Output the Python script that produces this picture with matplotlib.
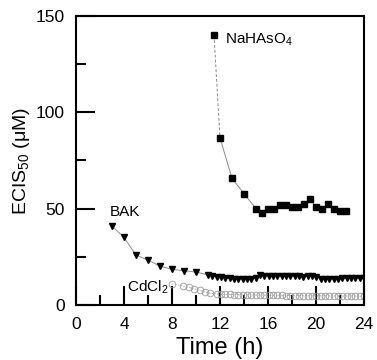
import matplotlib
matplotlib.use("Agg")
import matplotlib.pyplot as plt

plt.rcParams['font.family'] = ['Liberation Sans', 'DejaVu Sans']
plt.rcParams['mathtext.fontset'] = 'custom'
plt.rcParams['mathtext.rm'] = 'Liberation Sans'

# NaHAsO4 (squares)
na_time = [11.5, 12, 13, 14, 15, 15.5, 16, 16.5, 17, 17.5, 18, 18.5,
           19, 19.5, 20, 20.5, 21, 21.5, 22, 22.5]
na_vals = [140, 86.8, 65.7, 57.8, 50.0, 47.9, 50.0, 50.0, 51.9, 51.9, 50.8, 50.8,
           52.4, 55.0, 50.8, 49.7, 52.4, 49.7, 48.6, 48.6]

# BAK (down triangles)
bak_time = [3, 4, 5, 6, 7, 8, 9, 10,
            11.0, 11.36, 11.72, 12.08, 12.44, 12.81, 13.17, 13.53, 13.89, 14.25,
            14.61, 14.97, 15.33, 15.69, 16.06, 16.42, 16.78, 17.14, 17.5, 17.86,
            18.22, 18.58, 18.94, 19.31, 19.67, 20.03, 20.39, 20.75, 21.11, 21.47,
            21.83, 22.19, 22.56, 22.92, 23.28, 23.64, 24.0]
bak_vals = [41.0, 35.1, 25.9, 23.3, 20.2, 18.5, 17.8, 17.1,
            15.6, 15.0, 14.6, 14.3, 14.0, 13.8, 13.6, 13.4, 13.3, 13.4,
            13.6, 14.2, 15.4, 15.3, 15.2, 15.0, 15.0, 15.0, 14.9, 14.8,
            14.8, 14.8, 14.7, 15.0, 15.2, 14.5, 13.6, 13.5, 13.4, 13.4,
            13.6, 13.8, 13.9, 14.0, 14.0, 14.0, 14.0]

# CdCl2 (open circles)
cd_time = [8, 8.9, 9.4, 9.8, 10.3, 10.75, 11.2, 11.72,
           12.08, 12.44, 12.81, 13.17, 13.53, 13.89, 14.25, 14.61, 14.97, 15.33,
           15.69, 16.06, 16.42, 16.78, 17.14, 17.5, 17.86, 18.22, 18.58, 18.94,
           19.31, 19.67, 20.03, 20.39, 20.75, 21.11, 21.47, 21.83, 22.19, 22.56,
           22.92, 23.28, 23.64, 24.0]
cd_vals = [11.0, 9.9, 9.2, 8.5, 7.6, 6.7, 6.1, 5.7,
           5.6, 5.5, 5.5, 5.4, 5.4, 5.3, 5.3, 5.2, 5.2, 5.1,
           5.1, 5.1, 5.0, 5.0, 5.0, 4.9, 4.9, 4.9, 4.9, 4.8,
           4.8, 4.8, 4.8, 4.8, 4.7, 4.7, 4.7, 4.7, 4.7, 4.7,
           4.7, 4.6, 4.6, 4.6]

line_col = '#8c8c8c'

fig = plt.figure(figsize=(3.77, 3.60), dpi=100)
ax = fig.add_axes([0.2016, 0.1528, 0.7639, 0.8028])

# NaHAsO4: dashed first segment, then solid
ax.plot(na_time[:2], na_vals[:2], color=line_col, lw=0.7, ls=(0, (3, 2)), zorder=1)
ax.plot(na_time[1:], na_vals[1:], color=line_col, lw=0.7, zorder=1)
ax.plot(na_time, na_vals, ls='none', marker='s', ms=3.8, color='black', zorder=3)

ax.plot(bak_time, bak_vals, color=line_col, lw=0.7, zorder=1)
ax.plot(bak_time, bak_vals, ls='none', marker='v', ms=4.8, color='black', zorder=3)

ax.plot(cd_time, cd_vals, color='#aaaaaa', lw=0.6, ls=(0, (2, 1.5)), zorder=1)
ax.plot(cd_time, cd_vals, ls='none', marker='o', ms=4.8, mfc='none',
        mec='#999999', mew=0.6, zorder=2)

ax.text(12.4, 137.5, 'NaHAsO$_4$', fontsize=11, va='center', ha='left')
ax.text(2.85, 48.3, 'BAK', fontsize=11, va='center', ha='left')
ax.text(4.25, 9.5, 'CdCl$_2$', fontsize=11, va='center', ha='left')

ax.set_xlim(0, 24)
ax.set_ylim(0, 150)
ax.set_xticks(range(0, 25, 4))
ax.set_xticks(range(0, 25, 2), minor=True)
ax.set_yticks([0, 50, 100, 150])
ax.set_yticks([25, 75, 125], minor=True)

ax.tick_params(which='both', direction='in', width=1.5, labelsize=12.5)
ax.tick_params(axis='x', which='both', pad=9)
ax.tick_params(axis='y', which='both', pad=8)
ax.tick_params(which='major', length=14)
ax.tick_params(which='minor', length=7)
for s in ax.spines.values():
    s.set_linewidth(1.5)

ax.set_xlabel('Time (h)', fontsize=17, labelpad=3)
ax.set_ylabel('ECIS$_{50}$ (μM)', fontsize=14, labelpad=3)

fig.savefig('out.png', dpi=100)
